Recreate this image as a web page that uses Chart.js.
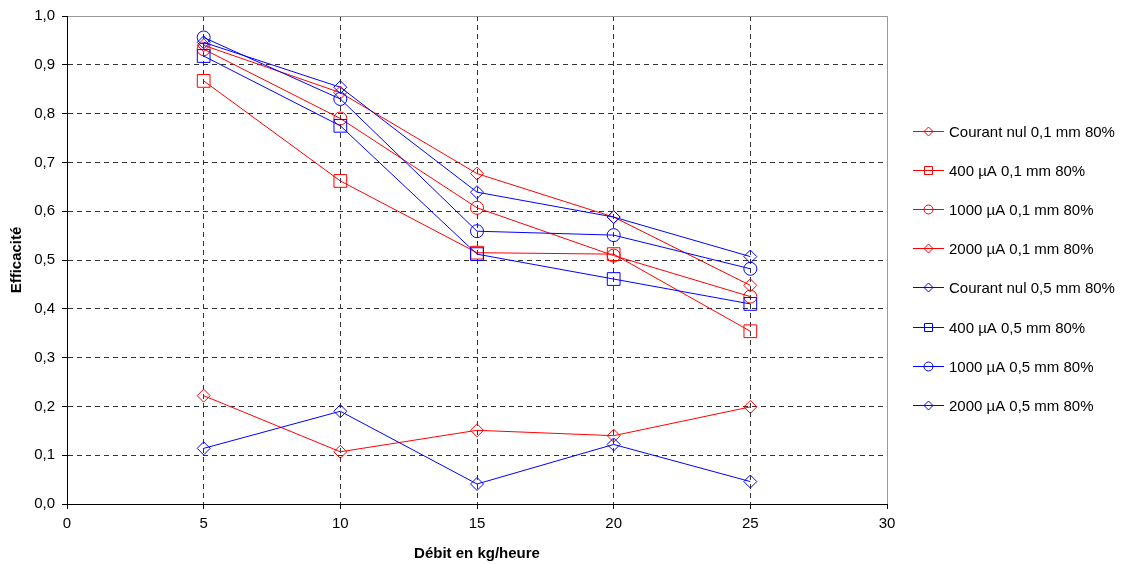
<!DOCTYPE html>
<html>
<head>
<meta charset="utf-8">
<script src="https://cdn.jsdelivr.net/npm/chart.js@4"></script>
<style>
  body { margin: 0; background: #fff; }
</style>
</head>
<body>
<canvas id="myChart" width="1125" height="564"></canvas>
<script>
// débit (kg/heure)
let debits = [5, 10, 15, 20, 25];

// efficacité par série
let courantNul01 = [0.222, 0.107, 0.151, 0.140, 0.199];
let ua400_01 = [0.867, 0.662, 0.515, 0.512, 0.354];
let ua1000_01 = [0.932, 0.790, 0.607, 0.509, 0.425];
let ua2000_01 = [0.940, 0.843, 0.677, 0.588, 0.448];
let courantNul05 = [0.114, 0.190, 0.041, 0.122, 0.046];
let ua400_05 = [0.918, 0.775, 0.512, 0.461, 0.410];
let ua1000_05 = [0.956, 0.830, 0.559, 0.551, 0.482];
let ua2000_05 = [0.946, 0.854, 0.639, 0.588, 0.507];

let seriesNames = [
    'Courant nul 0,1 mm 80%',
    '400 µA 0,1 mm 80%',
    '1000 µA 0,1 mm 80%',
    '2000 µA 0,1 mm 80%',
    'Courant nul 0,5 mm 80%',
    '400 µA 0,5 mm 80%',
    '1000 µA 0,5 mm 80%',
    '2000 µA 0,5 mm 80%'
];
let seriesValues = [courantNul01, ua400_01, ua1000_01, ua2000_01,
                    courantNul05, ua400_05, ua1000_05, ua2000_05];
let seriesColors = ['#ff0000', '#ff0000', '#ff0000', '#ff0000',
                    '#0000ff', '#0000ff', '#0000ff', '#0000ff'];
let seriesMarkers = ['rectRot', 'rect', 'circle', 'rectRot',
                     'rectRot', 'rect', 'circle', 'rectRot'];
let markerRadius = { rectRot: 6.5, rect: 9, circle: 6.5 };

Chart.defaults.font.family = '"Liberation Sans", Arial, sans-serif';
Chart.defaults.font.size = 15;
Chart.defaults.color = '#000';

let datasets = seriesNames.map(function (name, i) {
    return {
        label: name,
        data: debits.map(function (x, j) { return { x: x, y: seriesValues[i][j] }; }),
        borderColor: seriesColors[i],
        borderWidth: 1,
        pointStyle: seriesMarkers[i],
        pointRadius: markerRadius[seriesMarkers[i]],
        pointHoverRadius: markerRadius[seriesMarkers[i]],
        pointBorderColor: seriesColors[i],
        pointBorderWidth: 1,
        pointBackgroundColor: 'rgba(0,0,0,0)',
        tension: 0,
        fill: false,
        order: seriesNames.length - i
    };
});

function isLast(ctx, max) {
    return ctx.tick && Math.abs(ctx.tick.value - max) < 1e-9;
}

function drawMarker(c, style, x, y, s) {
    c.beginPath();
    if (style === 'rect') {
        c.rect(x - s, y - s, 2 * s, 2 * s);
    } else if (style === 'circle') {
        c.arc(x, y, s, 0, Math.PI * 2);
    } else {
        c.moveTo(x, y - s);
        c.lineTo(x + s, y);
        c.lineTo(x, y + s);
        c.lineTo(x - s, y);
        c.closePath();
    }
    c.stroke();
}

// légende dessinée à droite, comme dans Excel
let sideLegend = {
    id: 'sideLegend',
    afterDraw: function (chart) {
        let c = chart.ctx;
        c.save();
        c.font = '15px "Liberation Sans", Arial, sans-serif';
        c.textBaseline = 'middle';
        c.textAlign = 'left';
        chart.data.datasets.forEach(function (ds, i) {
            let y = Math.round(131 + i * 39.1) + 0.5;
            c.strokeStyle = ds.borderColor;
            c.lineWidth = 1;
            c.beginPath();
            c.moveTo(913, y);
            c.lineTo(944, y);
            c.stroke();
            drawMarker(c, ds.pointStyle, 928.5, y, ds.pointStyle === 'rect' ? 4 : 4.5);
            c.fillStyle = '#000';
            c.fillText(ds.label, 949, y + 1);
        });
        c.restore();
    }
};

let myChart = new Chart('myChart', {
    type: 'line',
    data: { datasets: datasets },
    plugins: [sideLegend],
    options: {
        responsive: false,
        animation: false,
        layout: { padding: { top: 16, right: 238, bottom: 0, left: 0 } },
        plugins: {
            legend: { display: false },
            tooltip: { enabled: false }
        },
        scales: {
            x: {
                type: 'linear',
                min: 0,
                max: 30,
                afterFit: function (scale) { scale.height = 60; },
                ticks: { stepSize: 5, padding: 6, maxRotation: 0 },
                grid: {
                    color: function (ctx) { return isLast(ctx, 30) ? '#999' : '#333'; },
                    tickColor: '#000',
                    tickLength: 5
                },
                border: {
                    color: '#000',
                    dash: function (ctx) { return isLast(ctx, 30) ? [] : [5, 4]; }
                },
                title: {
                    display: true,
                    text: 'Débit en kg/heure',
                    font: { weight: 'bold', size: 15 },
                    padding: { top: 0, bottom: 1 }
                }
            },
            y: {
                min: 0,
                max: 1,
                afterFit: function (scale) { scale.width = 67; },
                ticks: {
                    stepSize: 0.1,
                    padding: 7,
                    callback: function (v) { return v.toFixed(1).replace('.', ','); }
                },
                grid: {
                    color: function (ctx) { return isLast(ctx, 1) ? '#999' : '#333'; },
                    tickColor: '#000',
                    tickLength: 5
                },
                border: {
                    color: '#000',
                    dash: function (ctx) { return isLast(ctx, 1) ? [] : [5, 4]; }
                },
                title: {
                    display: true,
                    text: 'Efficacité',
                    font: { weight: 'bold', size: 15 },
                    padding: { top: 8, bottom: 0 }
                }
            }
        }
    }
});
</script>
</body>
</html>
